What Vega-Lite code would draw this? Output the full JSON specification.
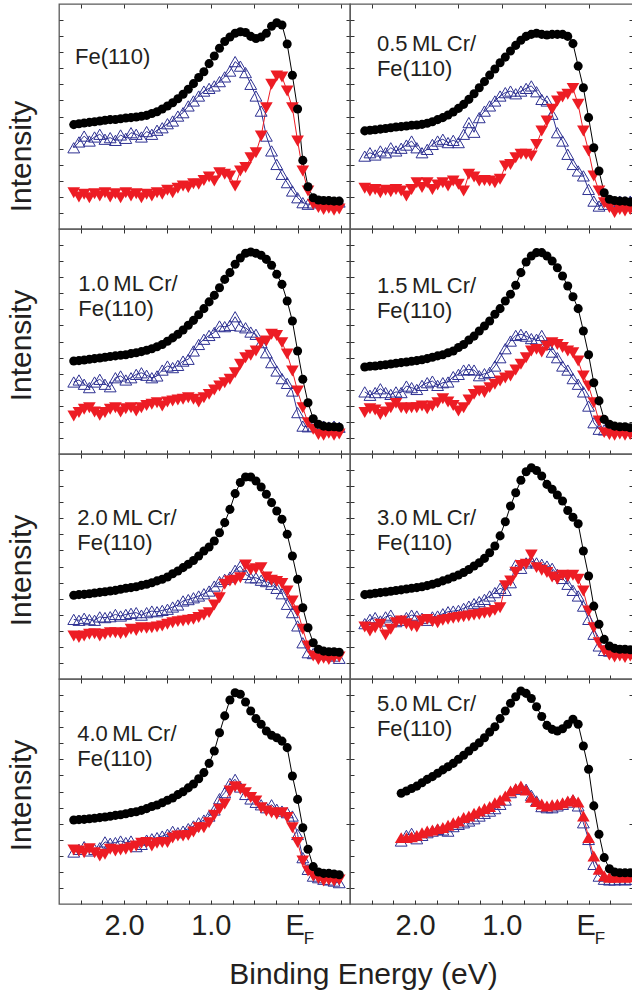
{
"$schema": "https://vega.github.io/schema/vega-lite/v6.json",
"padding": {"left": 5, "top": 2, "right": 0, "bottom": 0},
"background": "white",
"columns": 2,
"spacing": 0,
"bounds": "flush",
"align": "each",
"config": {
 "view": {"stroke": "#5a5a5a", "strokeWidth": 1.3},
 "axis": {"tickColor": "#333333", "tickWidth": 1, "labelFont": "Liberation Sans", "titleFont": "Liberation Sans", "titleFontWeight": "normal", "labelColor": "#231f20", "titleColor": "#231f20", "domain": false, "grid": false},
 "text": {"font": "Liberation Sans"}
},
"datasets": {"d": [
{"p":"a","x":2.58,"b":46.4,"t":36.1,"r":16.1},{"p":"a","x":2.52,"b":46.8,"t":38.7,"r":14.2},{"p":"a","x":2.46,"b":47.1,"t":41.3,"r":15.4},{"p":"a","x":2.4,"b":47.4,"t":39.1,"r":13.9},{"p":"a","x":2.34,"b":47.7,"t":40.9,"r":15.7},{"p":"a","x":2.28,"b":48.0,"t":42.1,"r":14.7},{"p":"a","x":2.22,"b":48.3,"t":39.9,"r":16.1},{"p":"a","x":2.16,"b":48.6,"t":40.6,"r":14.2},{"p":"a","x":2.1,"b":48.7,"t":39.4,"r":15.7},{"p":"a","x":2.04,"b":49.0,"t":41.8,"r":13.9},{"p":"a","x":1.98,"b":49.3,"t":40.3,"r":16.1},{"p":"a","x":1.92,"b":49.5,"t":42.8,"r":14.7},{"p":"a","x":1.86,"b":49.8,"t":42.1,"r":15.7},{"p":"a","x":1.8,"b":50.1,"t":40.9,"r":13.9},{"p":"a","x":1.74,"b":50.5,"t":43.3,"r":15.4},{"p":"a","x":1.68,"b":51.3,"t":42.1,"r":14.7},{"p":"a","x":1.62,"b":52.1,"t":43.9,"r":16.1},{"p":"a","x":1.56,"b":53.3,"t":45.0,"r":15.4},{"p":"a","x":1.5,"b":54.7,"t":46.8,"r":17.2},{"p":"a","x":1.44,"b":56.1,"t":48.0,"r":16.1},{"p":"a","x":1.38,"b":57.9,"t":50.2,"r":18.1},{"p":"a","x":1.32,"b":59.9,"t":51.7,"r":19.1},{"p":"a","x":1.26,"b":62.1,"t":54.7,"r":18.4},{"p":"a","x":1.2,"b":64.6,"t":56.9,"r":20.1},{"p":"a","x":1.14,"b":67.3,"t":59.1,"r":19.9},{"p":"a","x":1.08,"b":69.9,"t":61.3,"r":21.6},{"p":"a","x":1.02,"b":73.5,"t":62.5,"r":23.1},{"p":"a","x":0.96,"b":76.9,"t":63.6,"r":21.3},{"p":"a","x":0.9,"b":80.3,"t":65.5,"r":25.0},{"p":"a","x":0.84,"b":83.3,"t":67.6,"r":24.3},{"p":"a","x":0.78,"b":85.3,"t":70.2,"r":23.6},{"p":"a","x":0.72,"b":87.0,"t":74.4,"r":19.1},{"p":"a","x":0.66,"b":87.7,"t":72.4,"r":25.8},{"p":"a","x":0.6,"b":87.3,"t":69.5,"r":27.3},{"p":"a","x":0.54,"b":85.6,"t":64.3,"r":31.7},{"p":"a","x":0.48,"b":84.7,"t":59.1,"r":33.9},{"p":"a","x":0.42,"b":85.3,"t":52.4,"r":41.3},{"p":"a","x":0.36,"b":87.0,"t":41.3,"r":53.9},{"p":"a","x":0.3,"b":90.1,"t":34.7,"r":64.3},{"p":"a","x":0.24,"b":91.7,"t":28.7,"r":68.0},{"p":"a","x":0.18,"b":90.7,"t":24.3,"r":67.6},{"p":"a","x":0.12,"b":82.2,"t":20.6,"r":61.3},{"p":"a","x":0.06,"b":68.3,"t":16.9,"r":53.9},{"p":"a","x":0,"b":53.3,"t":13.9,"r":39.1},{"p":"a","x":-0.06,"b":30.5,"t":11.7,"r":25.8},{"p":"a","x":-0.12,"b":18.8,"t":11.0,"r":16.9},{"p":"a","x":-0.18,"b":13.9,"t":11.6,"r":11.0},{"p":"a","x":-0.24,"b":12.9,"t":12.1,"r":9.5},{"p":"a","x":-0.3,"b":12.7,"t":11.6,"r":8.7},{"p":"a","x":-0.36,"b":12.6,"t":12.1,"r":9.2},{"p":"a","x":-0.42,"b":12.4,"t":11.7,"r":8.3},{"p":"a","x":-0.48,"b":12.4,"t":12.0,"r":8.9},
{"p":"b","x":2.58,"b":43.6,"t":32.4,"r":18.1},{"p":"b","x":2.52,"b":43.9,"t":33.9,"r":16.9},{"p":"b","x":2.46,"b":44.1,"t":32.9,"r":17.6},{"p":"b","x":2.4,"b":44.4,"t":34.7,"r":16.1},{"p":"b","x":2.34,"b":44.7,"t":33.9,"r":17.2},{"p":"b","x":2.28,"b":45.0,"t":36.1,"r":16.6},{"p":"b","x":2.22,"b":45.3,"t":34.7,"r":17.6},{"p":"b","x":2.16,"b":45.5,"t":35.9,"r":16.9},{"p":"b","x":2.1,"b":45.8,"t":37.3,"r":14.7},{"p":"b","x":2.04,"b":46.1,"t":39.1,"r":17.6},{"p":"b","x":1.98,"b":46.2,"t":36.1,"r":20.6},{"p":"b","x":1.92,"b":46.5,"t":33.9,"r":18.4},{"p":"b","x":1.86,"b":47.0,"t":35.4,"r":20.6},{"p":"b","x":1.8,"b":47.7,"t":37.6,"r":17.6},{"p":"b","x":1.74,"b":48.6,"t":39.1,"r":19.6},{"p":"b","x":1.68,"b":49.5,"t":39.9,"r":20.6},{"p":"b","x":1.62,"b":50.7,"t":38.4,"r":19.1},{"p":"b","x":1.56,"b":52.0,"t":39.4,"r":21.3},{"p":"b","x":1.5,"b":53.6,"t":38.4,"r":19.9},{"p":"b","x":1.44,"b":55.4,"t":42.1,"r":16.9},{"p":"b","x":1.38,"b":57.6,"t":47.3,"r":24.3},{"p":"b","x":1.32,"b":60.1,"t":43.0,"r":23.1},{"p":"b","x":1.26,"b":62.8,"t":49.5,"r":21.3},{"p":"b","x":1.2,"b":65.5,"t":52.4,"r":21.6},{"p":"b","x":1.14,"b":68.4,"t":54.7,"r":21.3},{"p":"b","x":1.08,"b":71.1,"t":56.9,"r":20.6},{"p":"b","x":1.02,"b":73.9,"t":59.1,"r":22.1},{"p":"b","x":0.96,"b":76.4,"t":60.6,"r":28.0},{"p":"b","x":0.9,"b":79.1,"t":61.3,"r":28.7},{"p":"b","x":0.84,"b":81.6,"t":60.1,"r":31.7},{"p":"b","x":0.78,"b":83.9,"t":61.3,"r":33.2},{"p":"b","x":0.72,"b":85.6,"t":62.5,"r":33.2},{"p":"b","x":0.66,"b":86.5,"t":63.6,"r":32.4},{"p":"b","x":0.6,"b":87.0,"t":61.0,"r":37.6},{"p":"b","x":0.54,"b":86.5,"t":57.6,"r":43.6},{"p":"b","x":0.48,"b":86.2,"t":56.9,"r":48.0},{"p":"b","x":0.42,"b":86.5,"t":51.0,"r":53.2},{"p":"b","x":0.36,"b":86.5,"t":42.8,"r":56.9},{"p":"b","x":0.3,"b":86.5,"t":39.1,"r":58.7},{"p":"b","x":0.24,"b":85.6,"t":33.2,"r":59.9},{"p":"b","x":0.18,"b":82.4,"t":28.7,"r":62.5},{"p":"b","x":0.12,"b":72.4,"t":25.8,"r":55.4},{"p":"b","x":0.06,"b":62.8,"t":23.6,"r":43.6},{"p":"b","x":0,"b":49.5,"t":17.6,"r":34.7},{"p":"b","x":-0.06,"b":36.1,"t":12.4,"r":23.6},{"p":"b","x":-0.12,"b":25.8,"t":10.2,"r":16.9},{"p":"b","x":-0.18,"b":16.1,"t":11.0,"r":11.7},{"p":"b","x":-0.24,"b":13.2,"t":12.4,"r":9.5},{"p":"b","x":-0.3,"b":12.7,"t":11.7,"r":7.3},{"p":"b","x":-0.36,"b":12.4,"t":12.4,"r":8.7},{"p":"b","x":-0.42,"b":12.4,"t":12.1,"r":8.0},{"p":"b","x":-0.48,"b":12.0,"t":12.4,"r":8.7},
{"p":"c","x":2.58,"b":41.3,"t":32.0,"r":16.9},{"p":"c","x":2.52,"b":41.5,"t":32.9,"r":18.4},{"p":"c","x":2.46,"b":41.8,"t":31.0,"r":19.9},{"p":"c","x":2.4,"b":42.1,"t":29.5,"r":20.6},{"p":"c","x":2.34,"b":42.4,"t":32.0,"r":18.7},{"p":"c","x":2.28,"b":42.7,"t":33.2,"r":17.2},{"p":"c","x":2.22,"b":43.0,"t":31.0,"r":18.4},{"p":"c","x":2.16,"b":43.3,"t":29.9,"r":19.9},{"p":"c","x":2.1,"b":43.6,"t":33.9,"r":20.6},{"p":"c","x":2.04,"b":43.9,"t":34.7,"r":18.7},{"p":"c","x":1.98,"b":44.1,"t":32.9,"r":20.1},{"p":"c","x":1.92,"b":44.6,"t":33.9,"r":20.6},{"p":"c","x":1.86,"b":45.0,"t":35.4,"r":19.1},{"p":"c","x":1.8,"b":45.5,"t":36.1,"r":20.6},{"p":"c","x":1.74,"b":46.1,"t":35.0,"r":21.6},{"p":"c","x":1.68,"b":46.8,"t":33.9,"r":22.1},{"p":"c","x":1.62,"b":47.7,"t":34.7,"r":22.8},{"p":"c","x":1.56,"b":48.7,"t":37.3,"r":21.3},{"p":"c","x":1.5,"b":50.1,"t":39.1,"r":23.1},{"p":"c","x":1.44,"b":51.6,"t":38.4,"r":23.6},{"p":"c","x":1.38,"b":53.2,"t":39.4,"r":24.0},{"p":"c","x":1.32,"b":55.1,"t":41.3,"r":24.3},{"p":"c","x":1.26,"b":57.2,"t":42.1,"r":25.0},{"p":"c","x":1.2,"b":59.4,"t":45.8,"r":24.3},{"p":"c","x":1.14,"b":61.9,"t":48.7,"r":23.1},{"p":"c","x":1.08,"b":64.6,"t":51.0,"r":25.0},{"p":"c","x":1.02,"b":67.6,"t":52.7,"r":26.5},{"p":"c","x":0.96,"b":70.5,"t":54.0,"r":28.4},{"p":"c","x":0.9,"b":73.9,"t":56.9,"r":30.2},{"p":"c","x":0.84,"b":77.6,"t":56.6,"r":31.7},{"p":"c","x":0.78,"b":80.6,"t":57.2,"r":33.2},{"p":"c","x":0.72,"b":84.3,"t":61.0,"r":36.1},{"p":"c","x":0.66,"b":87.1,"t":56.9,"r":39.9},{"p":"c","x":0.6,"b":89.2,"t":56.1,"r":42.8},{"p":"c","x":0.54,"b":89.8,"t":54.2,"r":43.9},{"p":"c","x":0.48,"b":89.2,"t":53.2,"r":45.8},{"p":"c","x":0.42,"b":88.3,"t":49.5,"r":49.5},{"p":"c","x":0.36,"b":86.5,"t":45.0,"r":50.2},{"p":"c","x":0.3,"b":83.9,"t":40.6,"r":53.2},{"p":"c","x":0.24,"b":79.9,"t":36.9,"r":52.7},{"p":"c","x":0.18,"b":75.4,"t":33.5,"r":49.5},{"p":"c","x":0.12,"b":68.0,"t":31.4,"r":44.4},{"p":"c","x":0.06,"b":59.1,"t":28.0,"r":36.9},{"p":"c","x":0,"b":45.8,"t":18.4,"r":28.0},{"p":"c","x":-0.06,"b":33.2,"t":12.4,"r":20.6},{"p":"c","x":-0.12,"b":22.8,"t":12.1,"r":13.9},{"p":"c","x":-0.18,"b":15.7,"t":12.4,"r":11.0},{"p":"c","x":-0.24,"b":13.2,"t":12.1,"r":8.7},{"p":"c","x":-0.3,"b":12.4,"t":12.4,"r":8.3},{"p":"c","x":-0.36,"b":12.1,"t":12.0,"r":9.2},{"p":"c","x":-0.42,"b":12.1,"t":12.4,"r":8.3},{"p":"c","x":-0.48,"b":11.9,"t":11.9,"r":8.9},
{"p":"d","x":2.58,"b":38.7,"t":27.6,"r":18.4},{"p":"d","x":2.52,"b":39.0,"t":26.1,"r":20.1},{"p":"d","x":2.46,"b":39.1,"t":27.3,"r":19.6},{"p":"d","x":2.4,"b":39.4,"t":29.0,"r":17.6},{"p":"d","x":2.34,"b":39.7,"t":27.3,"r":18.7},{"p":"d","x":2.28,"b":40.0,"t":26.5,"r":20.6},{"p":"d","x":2.22,"b":40.3,"t":27.6,"r":22.5},{"p":"d","x":2.16,"b":40.6,"t":27.3,"r":20.6},{"p":"d","x":2.1,"b":40.9,"t":30.2,"r":20.1},{"p":"d","x":2.04,"b":41.2,"t":29.5,"r":20.6},{"p":"d","x":1.98,"b":41.5,"t":28.7,"r":20.6},{"p":"d","x":1.92,"b":41.9,"t":30.5,"r":21.3},{"p":"d","x":1.86,"b":42.4,"t":31.7,"r":20.1},{"p":"d","x":1.8,"b":43.0,"t":32.4,"r":21.3},{"p":"d","x":1.74,"b":43.6,"t":30.5,"r":22.8},{"p":"d","x":1.68,"b":44.1,"t":31.7,"r":24.6},{"p":"d","x":1.62,"b":45.0,"t":32.0,"r":23.1},{"p":"d","x":1.56,"b":45.8,"t":34.4,"r":21.6},{"p":"d","x":1.5,"b":47.3,"t":35.4,"r":19.1},{"p":"d","x":1.44,"b":48.7,"t":37.3,"r":20.6},{"p":"d","x":1.38,"b":50.7,"t":37.6,"r":24.0},{"p":"d","x":1.32,"b":52.4,"t":37.3,"r":26.5},{"p":"d","x":1.26,"b":54.7,"t":34.8,"r":28.0},{"p":"d","x":1.2,"b":56.9,"t":35.7,"r":27.3},{"p":"d","x":1.14,"b":59.1,"t":36.3,"r":29.5},{"p":"d","x":1.08,"b":62.1,"t":39.1,"r":31.0},{"p":"d","x":1.02,"b":64.6,"t":42.8,"r":32.4},{"p":"d","x":0.96,"b":68.0,"t":46.8,"r":33.8},{"p":"d","x":0.9,"b":71.0,"t":50.2,"r":34.7},{"p":"d","x":0.84,"b":75.0,"t":52.7,"r":37.3},{"p":"d","x":0.78,"b":80.6,"t":53.2,"r":39.9},{"p":"d","x":0.72,"b":85.3,"t":52.4,"r":42.8},{"p":"d","x":0.66,"b":88.0,"t":51.3,"r":45.8},{"p":"d","x":0.6,"b":89.5,"t":51.0,"r":46.5},{"p":"d","x":0.54,"b":89.5,"t":52.7,"r":45.3},{"p":"d","x":0.48,"b":88.0,"t":48.7,"r":48.0},{"p":"d","x":0.42,"b":85.8,"t":45.3,"r":49.5},{"p":"d","x":0.36,"b":82.8,"t":42.8,"r":48.7},{"p":"d","x":0.3,"b":79.1,"t":39.1,"r":47.3},{"p":"d","x":0.24,"b":74.7,"t":37.3,"r":45.8},{"p":"d","x":0.18,"b":69.9,"t":33.5,"r":45.0},{"p":"d","x":0.12,"b":64.6,"t":31.0,"r":41.3},{"p":"d","x":0.06,"b":54.7,"t":27.6,"r":34.7},{"p":"d","x":0,"b":44.1,"t":21.3,"r":30.2},{"p":"d","x":-0.06,"b":31.7,"t":13.9,"r":22.8},{"p":"d","x":-0.12,"b":23.6,"t":11.0,"r":14.7},{"p":"d","x":-0.18,"b":15.4,"t":10.7,"r":9.5},{"p":"d","x":-0.24,"b":13.2,"t":11.3,"r":8.7},{"p":"d","x":-0.3,"b":12.4,"t":11.0,"r":8.3},{"p":"d","x":-0.36,"b":12.1,"t":11.3,"r":8.9},{"p":"d","x":-0.42,"b":12.1,"t":10.7,"r":8.3},{"p":"d","x":-0.48,"b":11.7,"t":11.0,"r":8.7},
{"p":"e","x":2.58,"b":37.2,"t":26.5,"r":19.1},{"p":"e","x":2.52,"b":37.5,"t":26.1,"r":18.4},{"p":"e","x":2.46,"b":37.6,"t":27.0,"r":19.1},{"p":"e","x":2.4,"b":37.9,"t":26.4,"r":19.9},{"p":"e","x":2.34,"b":38.2,"t":26.1,"r":20.1},{"p":"e","x":2.28,"b":38.5,"t":27.6,"r":19.1},{"p":"e","x":2.22,"b":38.8,"t":27.3,"r":19.9},{"p":"e","x":2.16,"b":39.1,"t":27.7,"r":20.6},{"p":"e","x":2.1,"b":39.4,"t":28.7,"r":20.6},{"p":"e","x":2.04,"b":39.9,"t":28.0,"r":20.1},{"p":"e","x":1.98,"b":40.3,"t":28.7,"r":20.6},{"p":"e","x":1.92,"b":40.6,"t":29.2,"r":22.1},{"p":"e","x":1.86,"b":41.0,"t":29.5,"r":21.6},{"p":"e","x":1.8,"b":41.6,"t":28.4,"r":22.8},{"p":"e","x":1.74,"b":42.1,"t":29.5,"r":22.5},{"p":"e","x":1.68,"b":42.8,"t":30.2,"r":22.8},{"p":"e","x":1.62,"b":43.6,"t":29.9,"r":23.1},{"p":"e","x":1.56,"b":44.3,"t":30.5,"r":23.6},{"p":"e","x":1.5,"b":45.3,"t":31.0,"r":24.3},{"p":"e","x":1.44,"b":46.8,"t":32.0,"r":25.0},{"p":"e","x":1.38,"b":48.0,"t":32.9,"r":25.5},{"p":"e","x":1.32,"b":49.5,"t":34.7,"r":25.8},{"p":"e","x":1.26,"b":51.0,"t":35.3,"r":26.1},{"p":"e","x":1.2,"b":52.7,"t":36.1,"r":26.5},{"p":"e","x":1.14,"b":54.7,"t":36.9,"r":27.3},{"p":"e","x":1.08,"b":56.9,"t":37.9,"r":28.4},{"p":"e","x":1.02,"b":58.7,"t":39.1,"r":29.5},{"p":"e","x":0.96,"b":61.3,"t":41.3,"r":32.9},{"p":"e","x":0.9,"b":65.0,"t":43.3,"r":36.1},{"p":"e","x":0.84,"b":69.5,"t":44.3,"r":42.1},{"p":"e","x":0.78,"b":75.4,"t":45.3,"r":43.6},{"p":"e","x":0.72,"b":82.4,"t":48.3,"r":43.9},{"p":"e","x":0.66,"b":87.3,"t":50.2,"r":45.0},{"p":"e","x":0.6,"b":89.8,"t":46.5,"r":50.7},{"p":"e","x":0.54,"b":89.8,"t":45.0,"r":48.6},{"p":"e","x":0.48,"b":88.0,"t":45.0,"r":49.0},{"p":"e","x":0.42,"b":85.3,"t":43.9,"r":49.5},{"p":"e","x":0.36,"b":82.1,"t":43.3,"r":45.3},{"p":"e","x":0.3,"b":78.4,"t":42.1,"r":43.9},{"p":"e","x":0.24,"b":74.7,"t":40.3,"r":43.3},{"p":"e","x":0.18,"b":71.0,"t":37.9,"r":42.4},{"p":"e","x":0.12,"b":64.3,"t":33.2,"r":39.1},{"p":"e","x":0.06,"b":54.7,"t":29.5,"r":34.7},{"p":"e","x":0,"b":44.3,"t":23.6,"r":30.2},{"p":"e","x":-0.06,"b":31.7,"t":16.1,"r":22.1},{"p":"e","x":-0.12,"b":22.8,"t":11.7,"r":14.7},{"p":"e","x":-0.18,"b":16.1,"t":11.3,"r":10.2},{"p":"e","x":-0.24,"b":13.2,"t":11.7,"r":8.7},{"p":"e","x":-0.3,"b":12.4,"t":11.0,"r":9.2},{"p":"e","x":-0.36,"b":12.1,"t":10.7,"r":8.7},{"p":"e","x":-0.42,"b":12.1,"t":10.2,"r":9.5},{"p":"e","x":-0.48,"b":11.9,"t":9.2,"r":9.8},
{"p":"f","x":2.58,"b":37.5,"t":24.6,"r":23.1},{"p":"f","x":2.52,"b":37.8,"t":26.5,"r":21.3},{"p":"f","x":2.46,"b":38.1,"t":27.3,"r":22.8},{"p":"f","x":2.4,"b":38.4,"t":25.8,"r":24.3},{"p":"f","x":2.34,"b":38.7,"t":27.6,"r":19.6},{"p":"f","x":2.28,"b":39.0,"t":28.4,"r":22.1},{"p":"f","x":2.22,"b":39.3,"t":25.5,"r":25.0},{"p":"f","x":2.16,"b":39.6,"t":26.1,"r":25.8},{"p":"f","x":2.1,"b":40.0,"t":27.3,"r":24.6},{"p":"f","x":2.04,"b":40.3,"t":28.4,"r":23.6},{"p":"f","x":1.98,"b":40.6,"t":28.0,"r":23.1},{"p":"f","x":1.92,"b":41.0,"t":27.0,"r":25.8},{"p":"f","x":1.86,"b":41.5,"t":26.1,"r":26.5},{"p":"f","x":1.8,"b":42.1,"t":27.6,"r":25.5},{"p":"f","x":1.74,"b":42.8,"t":28.0,"r":25.0},{"p":"f","x":1.68,"b":43.6,"t":29.0,"r":26.1},{"p":"f","x":1.62,"b":44.4,"t":29.9,"r":26.5},{"p":"f","x":1.56,"b":45.3,"t":30.2,"r":27.0},{"p":"f","x":1.5,"b":46.2,"t":30.5,"r":27.3},{"p":"f","x":1.44,"b":47.3,"t":31.4,"r":27.7},{"p":"f","x":1.38,"b":48.7,"t":32.4,"r":28.0},{"p":"f","x":1.32,"b":50.2,"t":33.5,"r":28.4},{"p":"f","x":1.26,"b":51.7,"t":34.4,"r":28.7},{"p":"f","x":1.2,"b":53.6,"t":35.4,"r":29.2},{"p":"f","x":1.14,"b":56.1,"t":36.9,"r":29.5},{"p":"f","x":1.08,"b":59.1,"t":38.4,"r":30.5},{"p":"f","x":1.02,"b":63.6,"t":40.3,"r":31.7},{"p":"f","x":0.96,"b":69.9,"t":39.4,"r":41.5},{"p":"f","x":0.9,"b":76.9,"t":42.8,"r":43.6},{"p":"f","x":0.84,"b":82.8,"t":50.7,"r":47.4},{"p":"f","x":0.78,"b":88.3,"t":49.2,"r":50.4},{"p":"f","x":0.72,"b":92.1,"t":51.6,"r":51.0},{"p":"f","x":0.66,"b":93.9,"t":52.4,"r":55.1},{"p":"f","x":0.6,"b":92.7,"t":51.6,"r":49.5},{"p":"f","x":0.54,"b":90.2,"t":51.0,"r":48.3},{"p":"f","x":0.48,"b":86.5,"t":50.2,"r":47.3},{"p":"f","x":0.42,"b":84.3,"t":49.2,"r":45.3},{"p":"f","x":0.36,"b":81.8,"t":46.5,"r":44.3},{"p":"f","x":0.3,"b":79.1,"t":44.7,"r":46.1},{"p":"f","x":0.24,"b":74.9,"t":42.1,"r":45.6},{"p":"f","x":0.18,"b":71.9,"t":39.4,"r":46.1},{"p":"f","x":0.12,"b":69.0,"t":36.9,"r":44.3},{"p":"f","x":0.06,"b":56.9,"t":32.4,"r":39.1},{"p":"f","x":0,"b":45.8,"t":26.5,"r":30.2},{"p":"f","x":-0.06,"b":32.4,"t":19.9,"r":22.8},{"p":"f","x":-0.12,"b":24.3,"t":14.7,"r":16.1},{"p":"f","x":-0.18,"b":17.6,"t":12.7,"r":12.6},{"p":"f","x":-0.24,"b":14.7,"t":12.4,"r":10.7},{"p":"f","x":-0.3,"b":13.6,"t":12.1,"r":9.8},{"p":"f","x":-0.36,"b":13.2,"t":12.4,"r":10.2},{"p":"f","x":-0.42,"b":13.2,"t":12.0,"r":9.5},{"p":"f","x":-0.48,"b":13.0,"t":12.0,"r":10.2},
{"p":"g","x":2.58,"b":37.3,"t":23.1,"r":24.0},{"p":"g","x":2.52,"b":37.5,"t":24.3,"r":23.6},{"p":"g","x":2.46,"b":37.6,"t":25.5,"r":22.8},{"p":"g","x":2.4,"b":37.9,"t":23.6,"r":24.6},{"p":"g","x":2.34,"b":38.1,"t":24.3,"r":22.8},{"p":"g","x":2.28,"b":38.4,"t":25.0,"r":21.3},{"p":"g","x":2.22,"b":38.7,"t":27.6,"r":22.1},{"p":"g","x":2.16,"b":39.0,"t":27.0,"r":24.3},{"p":"g","x":2.1,"b":39.4,"t":27.3,"r":23.6},{"p":"g","x":2.04,"b":39.7,"t":28.0,"r":24.0},{"p":"g","x":1.98,"b":40.1,"t":27.3,"r":24.3},{"p":"g","x":1.92,"b":40.6,"t":28.0,"r":25.0},{"p":"g","x":1.86,"b":41.0,"t":25.5,"r":25.8},{"p":"g","x":1.8,"b":41.6,"t":26.5,"r":27.0},{"p":"g","x":1.74,"b":42.4,"t":28.4,"r":27.3},{"p":"g","x":1.68,"b":43.3,"t":29.0,"r":25.8},{"p":"g","x":1.62,"b":44.0,"t":29.5,"r":27.0},{"p":"g","x":1.56,"b":45.0,"t":30.2,"r":27.3},{"p":"g","x":1.5,"b":46.1,"t":31.0,"r":27.3},{"p":"g","x":1.44,"b":47.1,"t":32.3,"r":29.3},{"p":"g","x":1.38,"b":48.6,"t":31.7,"r":30.2},{"p":"g","x":1.32,"b":49.9,"t":32.4,"r":30.2},{"p":"g","x":1.26,"b":51.6,"t":33.5,"r":30.5},{"p":"g","x":1.2,"b":53.3,"t":34.7,"r":32.0},{"p":"g","x":1.14,"b":55.7,"t":36.1,"r":33.9},{"p":"g","x":1.08,"b":58.4,"t":37.3,"r":33.9},{"p":"g","x":1.02,"b":62.5,"t":39.1,"r":36.1},{"p":"g","x":0.96,"b":68.0,"t":41.8,"r":39.4},{"p":"g","x":0.9,"b":76.1,"t":46.8,"r":42.1},{"p":"g","x":0.84,"b":83.6,"t":49.5,"r":44.4},{"p":"g","x":0.78,"b":90.7,"t":53.6,"r":50.2},{"p":"g","x":0.72,"b":93.9,"t":55.4,"r":52.1},{"p":"g","x":0.66,"b":93.2,"t":52.0,"r":51.0},{"p":"g","x":0.6,"b":89.8,"t":48.7,"r":49.5},{"p":"g","x":0.54,"b":85.8,"t":46.7,"r":47.3},{"p":"g","x":0.48,"b":82.4,"t":45.2,"r":45.8},{"p":"g","x":0.42,"b":79.9,"t":44.1,"r":42.8},{"p":"g","x":0.36,"b":76.9,"t":42.8,"r":41.3},{"p":"g","x":0.3,"b":75.0,"t":44.1,"r":40.6},{"p":"g","x":0.24,"b":73.9,"t":42.1,"r":39.9},{"p":"g","x":0.18,"b":72.4,"t":41.3,"r":40.6},{"p":"g","x":0.12,"b":69.5,"t":40.6,"r":38.4},{"p":"g","x":0.06,"b":56.9,"t":39.1,"r":33.9},{"p":"g","x":0,"b":46.5,"t":30.9,"r":27.3},{"p":"g","x":-0.06,"b":33.9,"t":20.6,"r":19.1},{"p":"g","x":-0.12,"b":24.3,"t":15.4,"r":14.7},{"p":"g","x":-0.18,"b":16.6,"t":12.4,"r":12.4},{"p":"g","x":-0.24,"b":14.2,"t":11.7,"r":11.3},{"p":"g","x":-0.3,"b":13.6,"t":11.0,"r":10.2},{"p":"g","x":-0.36,"b":13.6,"t":10.7,"r":10.7},{"p":"g","x":-0.42,"b":13.3,"t":10.2,"r":10.2},{"p":"g","x":-0.48,"b":13.0,"t":9.5,"r":10.7},
{"p":"h","x":2.16,"b":49.2,"t":28.0,"r":29.5},{"p":"h","x":2.1,"b":50.2,"t":30.5,"r":29.5},{"p":"h","x":2.04,"b":51.3,"t":31.4,"r":29.9},{"p":"h","x":1.98,"b":52.4,"t":29.0,"r":30.5},{"p":"h","x":1.92,"b":53.9,"t":30.5,"r":31.7},{"p":"h","x":1.86,"b":55.4,"t":31.7,"r":32.4},{"p":"h","x":1.8,"b":56.6,"t":32.4,"r":32.9},{"p":"h","x":1.74,"b":58.1,"t":33.2,"r":33.5},{"p":"h","x":1.68,"b":59.6,"t":32.9,"r":34.0},{"p":"h","x":1.62,"b":61.0,"t":32.4,"r":35.0},{"p":"h","x":1.56,"b":62.5,"t":34.4,"r":36.1},{"p":"h","x":1.5,"b":64.3,"t":35.4,"r":36.9},{"p":"h","x":1.44,"b":66.1,"t":36.1,"r":38.4},{"p":"h","x":1.38,"b":68.0,"t":36.9,"r":39.1},{"p":"h","x":1.32,"b":69.9,"t":37.9,"r":40.3},{"p":"h","x":1.26,"b":71.7,"t":39.1,"r":41.3},{"p":"h","x":1.2,"b":73.9,"t":40.3,"r":42.4},{"p":"h","x":1.14,"b":76.4,"t":41.3,"r":43.3},{"p":"h","x":1.08,"b":78.8,"t":42.4,"r":45.0},{"p":"h","x":1.02,"b":82.4,"t":44.3,"r":46.2},{"p":"h","x":0.96,"b":85.8,"t":46.2,"r":48.0},{"p":"h","x":0.9,"b":89.2,"t":49.5,"r":50.2},{"p":"h","x":0.84,"b":92.1,"t":51.0,"r":51.3},{"p":"h","x":0.78,"b":94.7,"t":51.7,"r":52.4},{"p":"h","x":0.72,"b":93.6,"t":51.0,"r":50.7},{"p":"h","x":0.66,"b":91.3,"t":48.3,"r":47.4},{"p":"h","x":0.6,"b":87.7,"t":45.8,"r":45.5},{"p":"h","x":0.54,"b":83.3,"t":43.3,"r":44.4},{"p":"h","x":0.48,"b":79.4,"t":42.8,"r":43.6},{"p":"h","x":0.42,"b":77.6,"t":42.8,"r":44.1},{"p":"h","x":0.36,"b":76.9,"t":43.6,"r":44.3},{"p":"h","x":0.3,"b":77.9,"t":44.3,"r":45.0},{"p":"h","x":0.24,"b":79.9,"t":45.3,"r":45.8},{"p":"h","x":0.18,"b":82.1,"t":46.2,"r":46.5},{"p":"h","x":0.12,"b":79.9,"t":43.6,"r":45.3},{"p":"h","x":0.06,"b":70.2,"t":36.1,"r":39.1},{"p":"h","x":0,"b":59.9,"t":28.7,"r":29.6},{"p":"h","x":-0.06,"b":43.6,"t":17.6,"r":21.3},{"p":"h","x":-0.12,"b":31.0,"t":12.4,"r":15.4},{"p":"h","x":-0.18,"b":20.6,"t":11.0,"r":12.6},{"p":"h","x":-0.24,"b":15.7,"t":10.7,"r":11.9},{"p":"h","x":-0.3,"b":14.2,"t":10.7,"r":11.9},{"p":"h","x":-0.36,"b":13.9,"t":11.0,"r":12.1},{"p":"h","x":-0.42,"b":13.9,"t":10.7,"r":11.9},{"p":"h","x":-0.48,"b":13.9,"t":11.0,"r":12.1}
]},
"concat": [
{"width": 291, "height": 225, "resolve": {"axis": {"x": "independent", "y": "independent"}},
 "layer": [
  {"data": {"name": "d"}, "transform": [{"filter": "datum.p == 'a'"}, {"fold": ["b","t","r"], "as": ["s","v"]}],
   "encoding": {
    "x": {"field": "x", "type": "quantitative", "scale": {"domain": [2.75, -0.604], "nice": false, "zero": false}, "axis": {"orient": "bottom", "values": [2.5,2.25,2,1.75,1.5,1.25,1,0.75,0.5,0.25,0,-0.25,-0.5], "tickSize": -4, "labels": false, "title": null}},
    "y": {"field": "v", "type": "quantitative", "scale": {"domain": [0, 100], "nice": false, "zero": false}, "axis": {"orient": "left", "values": [7.143,14.286,21.429,28.571,35.714,42.857,50,57.143,64.286,71.429,78.571,85.714,92.857], "tickSize": -4, "labels": false, "title": "Intensity", "titleFontSize": 30, "titleX": -29, "titleY": 152, "titleBaseline": "alphabetic"}}
   },
   "layer": [
    {"mark": {"type": "line", "strokeWidth": 1}, "encoding": {"color": {"field": "s", "type": "nominal", "scale": {"domain": ["b","t","r"], "range": ["#000000","#2e3192","#ed1c24"]}, "legend": null}}},
    {"transform": [{"filter": "datum.s == 't'"}], "mark": {"type": "point", "shape": "triangle-up", "filled": false, "color": "#2e3192", "size": 140, "strokeWidth": 1, "opacity": 1}},
    {"transform": [{"filter": "datum.s == 'r'"}], "mark": {"type": "point", "shape": "triangle-down", "filled": true, "color": "#ed1c24", "size": 160, "opacity": 1}},
    {"transform": [{"filter": "datum.s == 'b'"}], "mark": {"type": "point", "shape": "circle", "filled": true, "color": "#000000", "size": 82, "opacity": 1}}
   ]},
  {"data": {"values": [{}]},
   "mark": {"type": "text", "align": "left", "baseline": "alphabetic", "fontSize": 22, "lineHeight": 25, "lineBreak": "\n", "color": "#231f20"},
   "encoding": {
    "x": {"datum": 2.566, "type": "quantitative", "axis": {"orient": "top", "values": [2.5,2,1.5,1,0.5,0,-0.5], "tickSize": -4, "labels": false, "title": null}},
    "y": {"datum": 73.2, "type": "quantitative", "axis": {"orient": "right", "values": [7.143,14.286,21.429,28.571,35.714,42.857,50,57.143,64.286,71.429,78.571,85.714,92.857], "tickSize": -4, "labels": false, "title": null}},
    "text": {"value": "Fe(110)"}
   }}
 ]},
{"width": 283, "height": 225, "resolve": {"axis": {"x": "independent", "y": "independent"}},
 "layer": [
  {"data": {"name": "d"}, "transform": [{"filter": "datum.p == 'b'"}, {"fold": ["b","t","r"], "as": ["s","v"]}],
   "encoding": {
    "x": {"field": "x", "type": "quantitative", "scale": {"domain": [2.75, -0.512], "nice": false, "zero": false}, "axis": {"orient": "bottom", "values": [2.5,2.25,2,1.75,1.5,1.25,1,0.75,0.5,0.25,0,-0.25,-0.5], "tickSize": -4, "labels": false, "title": null}},
    "y": {"field": "v", "type": "quantitative", "scale": {"domain": [0, 100], "nice": false, "zero": false}, "axis": {"orient": "left", "values": [7.143,14.286,21.429,28.571,35.714,42.857,50,57.143,64.286,71.429,78.571,85.714,92.857], "tickSize": -4, "labels": false, "title": null}}
   },
   "layer": [
    {"mark": {"type": "line", "strokeWidth": 1}, "encoding": {"color": {"field": "s", "type": "nominal", "scale": {"domain": ["b","t","r"], "range": ["#000000","#2e3192","#ed1c24"]}, "legend": null}}},
    {"transform": [{"filter": "datum.s == 't'"}], "mark": {"type": "point", "shape": "triangle-up", "filled": false, "color": "#2e3192", "size": 140, "strokeWidth": 1, "opacity": 1}},
    {"transform": [{"filter": "datum.s == 'r'"}], "mark": {"type": "point", "shape": "triangle-down", "filled": true, "color": "#ed1c24", "size": 160, "opacity": 1}},
    {"transform": [{"filter": "datum.s == 'b'"}], "mark": {"type": "point", "shape": "circle", "filled": true, "color": "#000000", "size": 82, "opacity": 1}}
   ]},
  {"data": {"values": [{}]},
   "mark": {"type": "text", "align": "left", "baseline": "alphabetic", "fontSize": 22, "lineHeight": 25, "lineBreak": "\n", "color": "#231f20"},
   "encoding": {
    "x": {"datum": 2.44, "type": "quantitative", "axis": {"orient": "top", "values": [2.5,2,1.5,1,0.5,0,-0.5], "tickSize": -4, "labels": false, "title": null}},
    "y": {"datum": 79.1, "type": "quantitative", "axis": {"orient": "right", "values": [7.143,14.286,21.429,28.571,35.714,42.857,50,57.143,64.286,71.429,78.571,85.714,92.857], "tickSize": -4, "labels": false, "title": null}},
    "text": {"value": "0.5\u2009ML\u2009Cr/\nFe(110)"}
   }}
 ]},
{"width": 291, "height": 225, "resolve": {"axis": {"x": "independent", "y": "independent"}},
 "layer": [
  {"data": {"name": "d"}, "transform": [{"filter": "datum.p == 'c'"}, {"fold": ["b","t","r"], "as": ["s","v"]}],
   "encoding": {
    "x": {"field": "x", "type": "quantitative", "scale": {"domain": [2.75, -0.604], "nice": false, "zero": false}, "axis": {"orient": "bottom", "values": [2.5,2.25,2,1.75,1.5,1.25,1,0.75,0.5,0.25,0,-0.25,-0.5], "tickSize": -4, "labels": false, "title": null}},
    "y": {"field": "v", "type": "quantitative", "scale": {"domain": [0, 100], "nice": false, "zero": false}, "axis": {"orient": "left", "values": [7.143,14.286,21.429,28.571,35.714,42.857,50,57.143,64.286,71.429,78.571,85.714,92.857], "tickSize": -4, "labels": false, "title": "Intensity", "titleFontSize": 30, "titleX": -29, "titleY": 116, "titleBaseline": "alphabetic"}}
   },
   "layer": [
    {"mark": {"type": "line", "strokeWidth": 1}, "encoding": {"color": {"field": "s", "type": "nominal", "scale": {"domain": ["b","t","r"], "range": ["#000000","#2e3192","#ed1c24"]}, "legend": null}}},
    {"transform": [{"filter": "datum.s == 't'"}], "mark": {"type": "point", "shape": "triangle-up", "filled": false, "color": "#2e3192", "size": 140, "strokeWidth": 1, "opacity": 1}},
    {"transform": [{"filter": "datum.s == 'r'"}], "mark": {"type": "point", "shape": "triangle-down", "filled": true, "color": "#ed1c24", "size": 160, "opacity": 1}},
    {"transform": [{"filter": "datum.s == 'b'"}], "mark": {"type": "point", "shape": "circle", "filled": true, "color": "#000000", "size": 82, "opacity": 1}}
   ]},
  {"data": {"values": [{}]},
   "mark": {"type": "text", "align": "left", "baseline": "alphabetic", "fontSize": 22, "lineHeight": 25, "lineBreak": "\n", "color": "#231f20"},
   "encoding": {
    "x": {"datum": 2.527, "type": "quantitative", "axis": {"orient": "top", "values": [2.5,2,1.5,1,0.5,0,-0.5], "tickSize": -4, "labels": false, "title": null}},
    "y": {"datum": 72.4, "type": "quantitative", "axis": {"orient": "right", "values": [7.143,14.286,21.429,28.571,35.714,42.857,50,57.143,64.286,71.429,78.571,85.714,92.857], "tickSize": -4, "labels": false, "title": null}},
    "text": {"value": "1.0\u2009ML\u2009Cr/\nFe(110)"}
   }}
 ]},
{"width": 283, "height": 225, "resolve": {"axis": {"x": "independent", "y": "independent"}},
 "layer": [
  {"data": {"name": "d"}, "transform": [{"filter": "datum.p == 'd'"}, {"fold": ["b","t","r"], "as": ["s","v"]}],
   "encoding": {
    "x": {"field": "x", "type": "quantitative", "scale": {"domain": [2.75, -0.512], "nice": false, "zero": false}, "axis": {"orient": "bottom", "values": [2.5,2.25,2,1.75,1.5,1.25,1,0.75,0.5,0.25,0,-0.25,-0.5], "tickSize": -4, "labels": false, "title": null}},
    "y": {"field": "v", "type": "quantitative", "scale": {"domain": [0, 100], "nice": false, "zero": false}, "axis": {"orient": "left", "values": [7.143,14.286,21.429,28.571,35.714,42.857,50,57.143,64.286,71.429,78.571,85.714,92.857], "tickSize": -4, "labels": false, "title": null}}
   },
   "layer": [
    {"mark": {"type": "line", "strokeWidth": 1}, "encoding": {"color": {"field": "s", "type": "nominal", "scale": {"domain": ["b","t","r"], "range": ["#000000","#2e3192","#ed1c24"]}, "legend": null}}},
    {"transform": [{"filter": "datum.s == 't'"}], "mark": {"type": "point", "shape": "triangle-up", "filled": false, "color": "#2e3192", "size": 140, "strokeWidth": 1, "opacity": 1}},
    {"transform": [{"filter": "datum.s == 'r'"}], "mark": {"type": "point", "shape": "triangle-down", "filled": true, "color": "#ed1c24", "size": 160, "opacity": 1}},
    {"transform": [{"filter": "datum.s == 'b'"}], "mark": {"type": "point", "shape": "circle", "filled": true, "color": "#000000", "size": 82, "opacity": 1}}
   ]},
  {"data": {"values": [{}]},
   "mark": {"type": "text", "align": "left", "baseline": "alphabetic", "fontSize": 22, "lineHeight": 25, "lineBreak": "\n", "color": "#231f20"},
   "encoding": {
    "x": {"datum": 2.44, "type": "quantitative", "axis": {"orient": "top", "values": [2.5,2,1.5,1,0.5,0,-0.5], "tickSize": -4, "labels": false, "title": null}},
    "y": {"datum": 71.7, "type": "quantitative", "axis": {"orient": "right", "values": [7.143,14.286,21.429,28.571,35.714,42.857,50,57.143,64.286,71.429,78.571,85.714,92.857], "tickSize": -4, "labels": false, "title": null}},
    "text": {"value": "1.5\u2009ML\u2009Cr/\nFe(110)"}
   }}
 ]},
{"width": 291, "height": 225, "resolve": {"axis": {"x": "independent", "y": "independent"}},
 "layer": [
  {"data": {"name": "d"}, "transform": [{"filter": "datum.p == 'e'"}, {"fold": ["b","t","r"], "as": ["s","v"]}],
   "encoding": {
    "x": {"field": "x", "type": "quantitative", "scale": {"domain": [2.75, -0.604], "nice": false, "zero": false}, "axis": {"orient": "bottom", "values": [2.5,2.25,2,1.75,1.5,1.25,1,0.75,0.5,0.25,0,-0.25,-0.5], "tickSize": -4, "labels": false, "title": null}},
    "y": {"field": "v", "type": "quantitative", "scale": {"domain": [0, 100], "nice": false, "zero": false}, "axis": {"orient": "left", "values": [7.143,14.286,21.429,28.571,35.714,42.857,50,57.143,64.286,71.429,78.571,85.714,92.857], "tickSize": -4, "labels": false, "title": "Intensity", "titleFontSize": 30, "titleX": -29, "titleY": 116, "titleBaseline": "alphabetic"}}
   },
   "layer": [
    {"mark": {"type": "line", "strokeWidth": 1}, "encoding": {"color": {"field": "s", "type": "nominal", "scale": {"domain": ["b","t","r"], "range": ["#000000","#2e3192","#ed1c24"]}, "legend": null}}},
    {"transform": [{"filter": "datum.s == 't'"}], "mark": {"type": "point", "shape": "triangle-up", "filled": false, "color": "#2e3192", "size": 140, "strokeWidth": 1, "opacity": 1}},
    {"transform": [{"filter": "datum.s == 'r'"}], "mark": {"type": "point", "shape": "triangle-down", "filled": true, "color": "#ed1c24", "size": 160, "opacity": 1}},
    {"transform": [{"filter": "datum.s == 'b'"}], "mark": {"type": "point", "shape": "circle", "filled": true, "color": "#000000", "size": 82, "opacity": 1}}
   ]},
  {"data": {"values": [{}]},
   "mark": {"type": "text", "align": "left", "baseline": "alphabetic", "fontSize": 22, "lineHeight": 25, "lineBreak": "\n", "color": "#231f20"},
   "encoding": {
    "x": {"datum": 2.54, "type": "quantitative", "axis": {"orient": "top", "values": [2.5,2,1.5,1,0.5,0,-0.5], "tickSize": -4, "labels": false, "title": null}},
    "y": {"datum": 68.4, "type": "quantitative", "axis": {"orient": "right", "values": [7.143,14.286,21.429,28.571,35.714,42.857,50,57.143,64.286,71.429,78.571,85.714,92.857], "tickSize": -4, "labels": false, "title": null}},
    "text": {"value": "2.0\u2009ML\u2009Cr/\nFe(110)"}
   }}
 ]},
{"width": 283, "height": 225, "resolve": {"axis": {"x": "independent", "y": "independent"}},
 "layer": [
  {"data": {"name": "d"}, "transform": [{"filter": "datum.p == 'f'"}, {"fold": ["b","t","r"], "as": ["s","v"]}],
   "encoding": {
    "x": {"field": "x", "type": "quantitative", "scale": {"domain": [2.75, -0.512], "nice": false, "zero": false}, "axis": {"orient": "bottom", "values": [2.5,2.25,2,1.75,1.5,1.25,1,0.75,0.5,0.25,0,-0.25,-0.5], "tickSize": -4, "labels": false, "title": null}},
    "y": {"field": "v", "type": "quantitative", "scale": {"domain": [0, 100], "nice": false, "zero": false}, "axis": {"orient": "left", "values": [7.143,14.286,21.429,28.571,35.714,42.857,50,57.143,64.286,71.429,78.571,85.714,92.857], "tickSize": -4, "labels": false, "title": null}}
   },
   "layer": [
    {"mark": {"type": "line", "strokeWidth": 1}, "encoding": {"color": {"field": "s", "type": "nominal", "scale": {"domain": ["b","t","r"], "range": ["#000000","#2e3192","#ed1c24"]}, "legend": null}}},
    {"transform": [{"filter": "datum.s == 't'"}], "mark": {"type": "point", "shape": "triangle-up", "filled": false, "color": "#2e3192", "size": 140, "strokeWidth": 1, "opacity": 1}},
    {"transform": [{"filter": "datum.s == 'r'"}], "mark": {"type": "point", "shape": "triangle-down", "filled": true, "color": "#ed1c24", "size": 160, "opacity": 1}},
    {"transform": [{"filter": "datum.s == 'b'"}], "mark": {"type": "point", "shape": "circle", "filled": true, "color": "#000000", "size": 82, "opacity": 1}}
   ]},
  {"data": {"values": [{}]},
   "mark": {"type": "text", "align": "left", "baseline": "alphabetic", "fontSize": 22, "lineHeight": 25, "lineBreak": "\n", "color": "#231f20"},
   "encoding": {
    "x": {"datum": 2.44, "type": "quantitative", "axis": {"orient": "top", "values": [2.5,2,1.5,1,0.5,0,-0.5], "tickSize": -4, "labels": false, "title": null}},
    "y": {"datum": 68.4, "type": "quantitative", "axis": {"orient": "right", "values": [7.143,14.286,21.429,28.571,35.714,42.857,50,57.143,64.286,71.429,78.571,85.714,92.857], "tickSize": -4, "labels": false, "title": null}},
    "text": {"value": "3.0\u2009ML\u2009Cr/\nFe(110)"}
   }}
 ]},
{"width": 291, "height": 225, "resolve": {"axis": {"x": "independent", "y": "independent"}},
 "layer": [
  {"data": {"name": "d"}, "transform": [{"filter": "datum.p == 'g'"}, {"fold": ["b","t","r"], "as": ["s","v"]}],
   "encoding": {
    "x": {"field": "x", "type": "quantitative", "scale": {"domain": [2.75, -0.604], "nice": false, "zero": false}, "axis": {"orient": "bottom", "values": [2.5,2.25,2,1.75,1.5,1.25,1,0.75,0.5,0.25,0,-0.25,-0.5], "tickSize": -4, "labels": true, "labelExpr": "datum.value == 2 ? '2.0' : datum.value == 1 ? '1.0' : datum.value == 0 ? 'E' : ''", "labelFontSize": 29, "labelPadding": 11, "labelFlush": false, "labelOverlap": false, "labelOffset": {"condition": {"test": "datum.value == 0", "value": -3}, "value": 0}, "title": "Binding Energy (eV)", "titleFontSize": 30, "titleX": 304, "titleY": 79, "titleAlign": "center", "titleBaseline": "alphabetic"}},
    "y": {"field": "v", "type": "quantitative", "scale": {"domain": [0, 100], "nice": false, "zero": false}, "axis": {"orient": "left", "values": [7.143,14.286,21.429,28.571,35.714,42.857,50,57.143,64.286,71.429,78.571,85.714,92.857], "tickSize": -4, "labels": false, "title": "Intensity", "titleFontSize": 30, "titleX": -29, "titleY": 116, "titleBaseline": "alphabetic"}}
   },
   "layer": [
    {"mark": {"type": "line", "strokeWidth": 1}, "encoding": {"color": {"field": "s", "type": "nominal", "scale": {"domain": ["b","t","r"], "range": ["#000000","#2e3192","#ed1c24"]}, "legend": null}}},
    {"transform": [{"filter": "datum.s == 't'"}], "mark": {"type": "point", "shape": "triangle-up", "filled": false, "color": "#2e3192", "size": 140, "strokeWidth": 1, "opacity": 1}},
    {"transform": [{"filter": "datum.s == 'r'"}], "mark": {"type": "point", "shape": "triangle-down", "filled": true, "color": "#ed1c24", "size": 160, "opacity": 1}},
    {"transform": [{"filter": "datum.s == 'b'"}], "mark": {"type": "point", "shape": "circle", "filled": true, "color": "#000000", "size": 82, "opacity": 1}}
   ]},
  {"data": {"values": [{}]},
   "layer": [
    {"mark": {"type": "text", "align": "left", "baseline": "alphabetic", "fontSize": 22, "lineHeight": 25, "lineBreak": "\n", "color": "#231f20"},
     "encoding": {
      "x": {"datum": 2.54, "type": "quantitative", "axis": {"orient": "top", "values": [2.5,2,1.5,1,0.5,0,-0.5], "tickSize": -4, "labels": false, "title": null}},
      "y": {"datum": 72.4, "type": "quantitative", "axis": {"orient": "right", "values": [7.143,14.286,21.429,28.571,35.714,42.857,50,57.143,64.286,71.429,78.571,85.714,92.857], "tickSize": -4, "labels": false, "title": null}},
      "text": {"value": "4.0\u2009ML\u2009Cr/\nFe(110)"}
     }},
    {"mark": {"type": "text", "align": "left", "baseline": "alphabetic", "fontSize": 17, "color": "#231f20"},
     "encoding": {"x": {"datum": -0.072, "type": "quantitative"}, "y": {"datum": -17.8, "type": "quantitative"}, "text": {"value": "F"}}}
   ]}
 ]},
{"width": 283, "height": 225, "resolve": {"axis": {"x": "independent", "y": "independent"}},
 "layer": [
  {"data": {"name": "d"}, "transform": [{"filter": "datum.p == 'h'"}, {"fold": ["b","t","r"], "as": ["s","v"]}],
   "encoding": {
    "x": {"field": "x", "type": "quantitative", "scale": {"domain": [2.75, -0.512], "nice": false, "zero": false}, "axis": {"orient": "bottom", "values": [2.5,2.25,2,1.75,1.5,1.25,1,0.75,0.5,0.25,0,-0.25,-0.5], "tickSize": -4, "labels": true, "labelExpr": "datum.value == 2 ? '2.0' : datum.value == 1 ? '1.0' : datum.value == 0 ? 'E' : ''", "labelFontSize": 29, "labelPadding": 11, "labelFlush": false, "labelOverlap": false, "labelOffset": {"condition": {"test": "datum.value == 0", "value": -3}, "value": 0}, "title": null}},
    "y": {"field": "v", "type": "quantitative", "scale": {"domain": [0, 100], "nice": false, "zero": false}, "axis": {"orient": "left", "values": [7.143,14.286,21.429,28.571,35.714,42.857,50,57.143,64.286,71.429,78.571,85.714,92.857], "tickSize": -4, "labels": false, "title": null}}
   },
   "layer": [
    {"mark": {"type": "line", "strokeWidth": 1}, "encoding": {"color": {"field": "s", "type": "nominal", "scale": {"domain": ["b","t","r"], "range": ["#000000","#2e3192","#ed1c24"]}, "legend": null}}},
    {"transform": [{"filter": "datum.s == 't'"}], "mark": {"type": "point", "shape": "triangle-up", "filled": false, "color": "#2e3192", "size": 140, "strokeWidth": 1, "opacity": 1}},
    {"transform": [{"filter": "datum.s == 'r'"}], "mark": {"type": "point", "shape": "triangle-up", "filled": true, "color": "#ed1c24", "size": 160, "opacity": 1}},
    {"transform": [{"filter": "datum.s == 'b'"}], "mark": {"type": "point", "shape": "circle", "filled": true, "color": "#000000", "size": 82, "opacity": 1}}
   ]},
  {"data": {"values": [{}]},
   "layer": [
    {"mark": {"type": "text", "align": "left", "baseline": "alphabetic", "fontSize": 22, "lineHeight": 25, "lineBreak": "\n", "color": "#231f20"},
     "encoding": {
      "x": {"datum": 2.44, "type": "quantitative", "axis": {"orient": "top", "values": [2.5,2,1.5,1,0.5,0,-0.5], "tickSize": -4, "labels": false, "title": null}},
      "y": {"datum": 85.8, "type": "quantitative", "axis": {"orient": "right", "values": [7.143,14.286,21.429,28.571,35.714,42.857,50,57.143,64.286,71.429,78.571,85.714,92.857], "tickSize": -4, "labels": false, "title": null}},
      "text": {"value": "5.0\u2009ML\u2009Cr/\nFe(110)"}
     }},
    {"mark": {"type": "text", "align": "left", "baseline": "alphabetic", "fontSize": 17, "color": "#231f20"},
     "encoding": {"x": {"datum": -0.072, "type": "quantitative"}, "y": {"datum": -17.8, "type": "quantitative"}, "text": {"value": "F"}}}
   ]}
 ]}
]
}
